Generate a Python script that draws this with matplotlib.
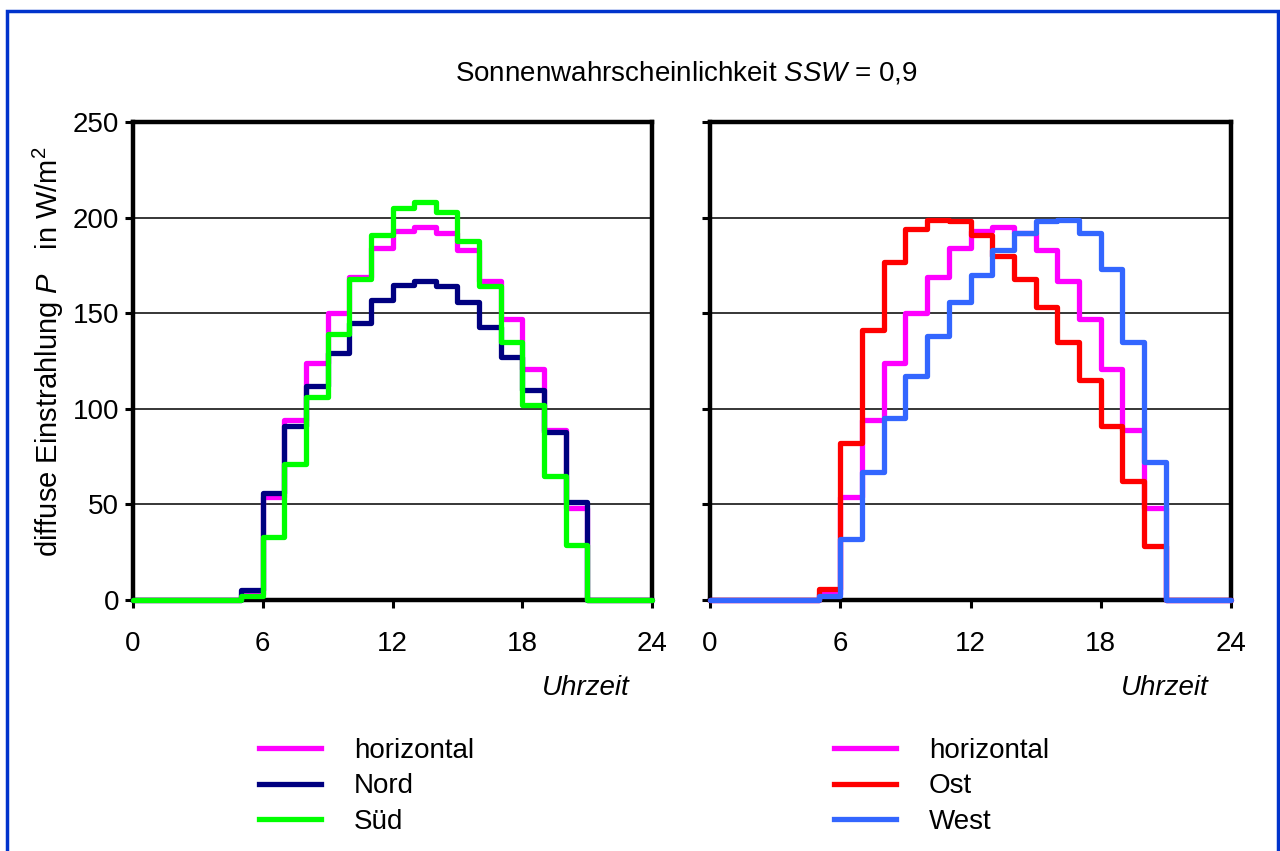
import matplotlib
matplotlib.use("Agg")
import matplotlib.pyplot as plt
from matplotlib.patches import Rectangle
import numpy as np

plt.rcParams['font.family'] = ['Liberation Sans', 'DejaVu Sans']
plt.rcParams['mathtext.fontset'] = 'custom'
plt.rcParams['mathtext.rm'] = 'Liberation Sans'
plt.rcParams['mathtext.it'] = 'Liberation Sans:italic'

# Hourly diffuse irradiance in W/m², one value per hour 0..23
hours = np.arange(0, 25)
horizontal = [0, 0, 0, 0, 0, 3, 54, 94, 124, 150, 169, 184, 193, 195, 192, 183, 167, 147, 121, 89, 48, 0, 0, 0]
nord = [0, 0, 0, 0, 0, 5, 56, 91, 112, 129, 145, 157, 165, 167, 164, 156, 143, 127, 110, 88, 51, 0, 0, 0]
sued = [0, 0, 0, 0, 0, 2, 33, 71, 106, 139, 168, 191, 205, 208, 203, 188, 164, 135, 102, 65, 29, 0, 0, 0]
ost = [0, 0, 0, 0, 0, 6, 82, 141, 177, 194, 199, 198, 191, 180, 168, 153, 135, 115, 91, 62, 28, 0, 0, 0]
west = [0, 0, 0, 0, 0, 2, 32, 67, 95, 117, 138, 156, 170, 183, 192, 198, 199, 192, 173, 135, 72, 0, 0, 0]

x_ticks = [0, 6, 12, 18, 24]
y_ticks = [0, 50, 100, 150, 200, 250]

c_hor = '#FF00FF'
c_nord = '#000080'
c_sued = '#00FF00'
c_ost = '#FF0000'
c_west = '#3366FF'

W, H = 1280, 851
fig = plt.figure(figsize=(W / 100, H / 100), dpi=100)
fig.patch.set_facecolor('white')

FS = 20
LW = 3.8


def make_axes(x0, x1, show_ylabels):
    ax = fig.add_axes([x0 / W, 1 - 600 / H, (x1 - x0) / W, (600 - 122) / H])
    ax.set_xlim(0, 24)
    ax.set_ylim(0, 250)
    ax.set_xticks(x_ticks)
    ax.set_yticks(y_ticks)
    for s in ax.spines.values():
        s.set_linewidth(3.2)
        s.set_color('black')
        s.set_zorder(1)
    ax.tick_params(axis='both', direction='out', length=6, width=2.2,
                   labelsize=FS, color='black')
    ax.tick_params(axis='x', pad=16)
    ax.tick_params(axis='y', pad=4)
    if not show_ylabels:
        ax.set_yticklabels([])
    for v in y_ticks[1:-1]:
        ax.axhline(v, color='black', lw=1.1, zorder=0.5)
    ax.text(0.957, -0.184, 'Uhrzeit', transform=ax.transAxes, ha='right',
            va='center', fontsize=FS, style='italic')
    return ax


def draw(ax, vals, color, label):
    ax.stairs(vals, hours, baseline=None, color=color, lw=LW, label=label,
              zorder=3, joinstyle='round', capstyle='round')


ax1 = make_axes(133, 652, True)
draw(ax1, horizontal, c_hor, 'horizontal')
draw(ax1, nord, c_nord, 'Nord')
draw(ax1, sued, c_sued, 'Süd')

ax2 = make_axes(710, 1231, False)
draw(ax2, horizontal, c_hor, 'horizontal')
draw(ax2, ost, c_ost, 'Ost')
draw(ax2, west, c_west, 'West')

for ax in (ax1, ax2):
    for ln in ax.patches:
        ln.set_clip_on(False)

leg_kw = dict(loc='upper left', frameon=False, fontsize=FS, handlelength=2.23,
              handletextpad=1.19, labelspacing=0.34, borderpad=0, borderaxespad=0)
l1 = fig.legend(handles=ax1.patches[:3], bbox_to_anchor=(259 / W, 1 - 738 / H), **leg_kw)
l2 = fig.legend(handles=ax2.patches[:3], bbox_to_anchor=(834 / W, 1 - 738 / H), **leg_kw)
for leg in (l1, l2):
    for h in leg.legend_handles:
        h.set_linewidth(LW)

fig.text(686 / W, 1 - 73 / H, r'Sonnenwahrscheinlichkeit $\mathit{SSW}$ = 0,9',
         ha='center', va='center', fontsize=FS)
fig.text(48 / W, 1 - 352 / H, r'diffuse Einstrahlung $\mathit{P}$   in W/m$^2$',
         ha='center', va='center', rotation=90, fontsize=21)

fig.patches.append(Rectangle((7 / W, -0.05), (1278 - 7) / W, 1 - 11 / H + 0.05,
                             transform=fig.transFigure, fill=False,
                             edgecolor='#0033CC', lw=2.5, clip_on=False))

fig.savefig('out.png', dpi=100, facecolor='white')
